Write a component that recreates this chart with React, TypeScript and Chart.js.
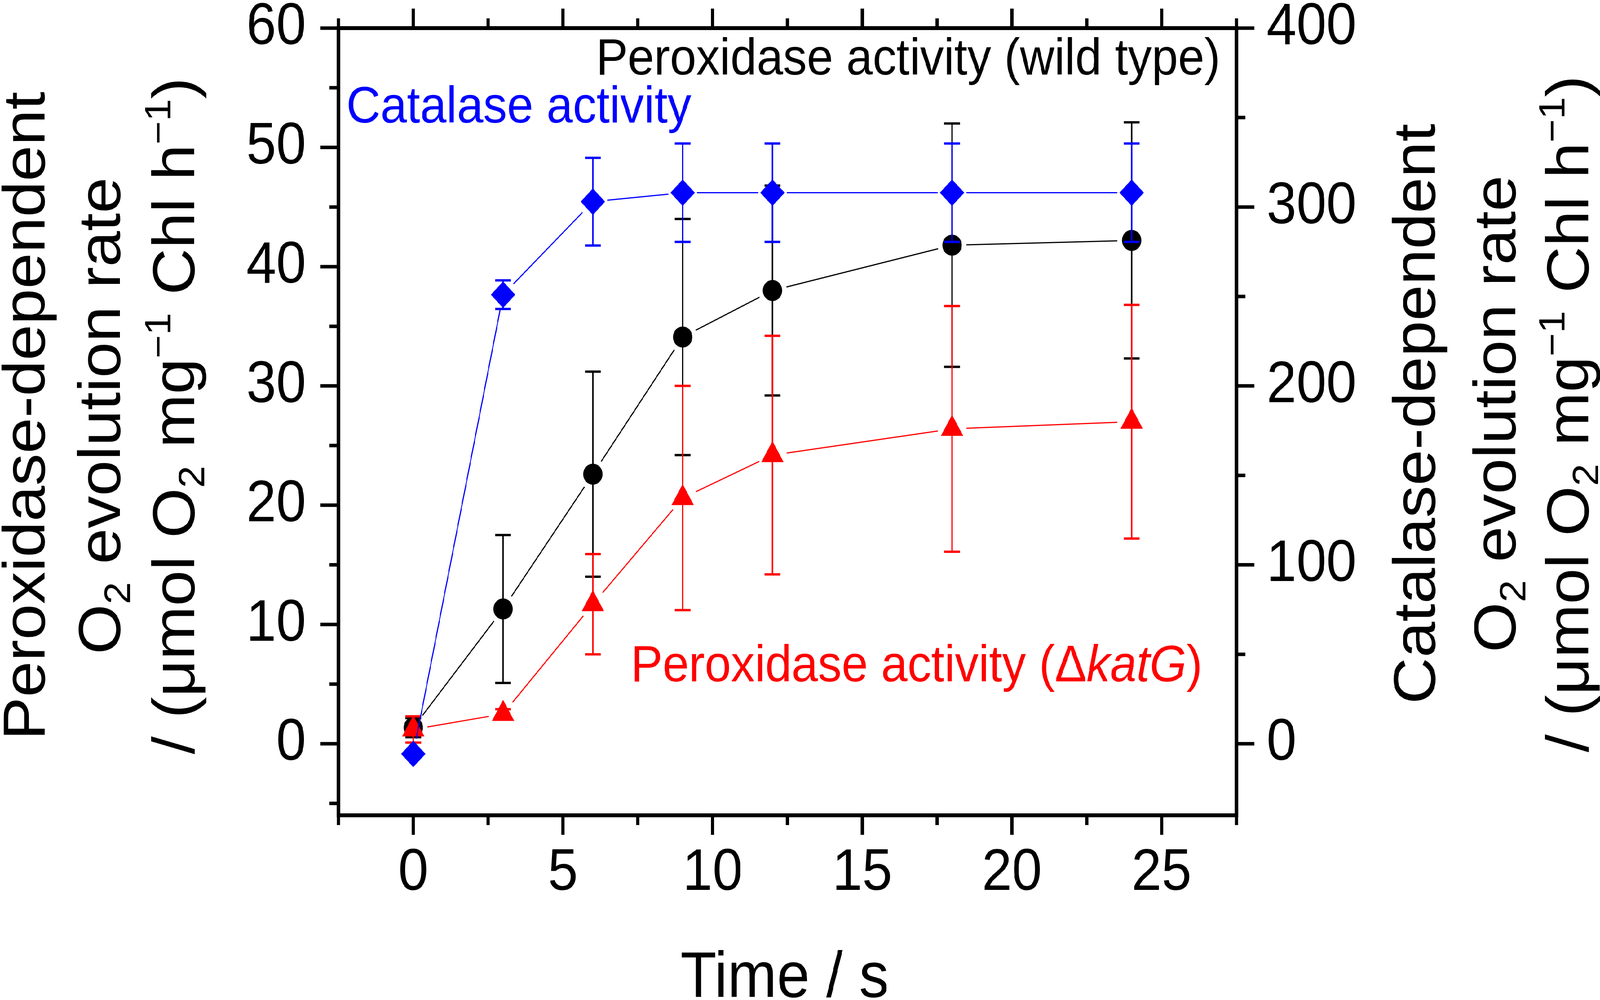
import { useEffect, useRef } from "react"
import { Chart, registerables } from "chart.js"

Chart.register(...registerables)

const FONT = '"Liberation Sans", Arial, sans-serif'
const W = 4458
const H = 2561

// time points (s)
const time = [0, 3, 6, 9, 12, 18, 24]

// peroxidase activity, wild type (left axis)
const wildType = [1.35, 11.3, 22.6, 34.1, 38.0, 41.8, 42.2]
const wildTypeErr = [0.8, 6.2, 8.6, 9.9, 8.8, 10.2, 9.9]

// peroxidase activity, delta katG (left axis)
const katG = [1.2, 2.5, 11.7, 20.6, 24.2, 26.4, 27.0]
const katGErr = [1.1, 0.4, 4.2, 9.4, 10.0, 10.3, 9.8]

// catalase activity (right axis)
const catalase = [-5.7, 251, 303, 308, 308, 308, 308]
const catalaseErr = [2, 8, 24.5, 27.5, 27.5, 27.5, 27.5]

// tick labels
const xTicks = [0, 5, 10, 15, 20, 25]
const xMinor = [-2.5, 2.5, 7.5, 12.5, 17.5, 22.5, 27.5]
const leftTicks = [0, 10, 20, 30, 40, 50, 60]
const leftMinor = [-5, 5, 15, 25, 35, 45, 55]
const rightTicks = [0, 100, 200, 300, 400]
const rightMinor = [50, 150, 250, 350]

type Seg = { t: string; kind?: "sub" | "sup"; italic?: boolean }

const titleLines: Seg[][] = [
  [{ t: "O" }, { t: "2", kind: "sub" }, { t: " evolution rate" }],
  [
    { t: "/ (\u03bcmol O" },
    { t: "2", kind: "sub" },
    { t: " mg" },
    { t: "\u22121", kind: "sup" },
    { t: " Chl h" },
    { t: "\u22121", kind: "sup" },
    { t: ")" },
  ],
]

function drawRich(ctx: CanvasRenderingContext2D, segs: Seg[], x: number, y: number, size: number, color: string, align: "left" | "center") {
  const small = size * 0.62
  const fontFor = (s: Seg) => `${s.italic ? "italic " : ""}${s.kind ? small : size}px ${FONT}`
  ctx.fillStyle = color
  ctx.textAlign = "left"
  ctx.textBaseline = "alphabetic"
  let total = 0
  const widths = segs.map((s) => {
    ctx.font = fontFor(s)
    const w = ctx.measureText(s.t).width
    total += w
    return w
  })
  let cx = align === "center" ? x - total / 2 : x
  segs.forEach((s, i) => {
    ctx.font = fontFor(s)
    const dy = s.kind === "sub" ? size * 0.17 : s.kind === "sup" ? -size * 0.4 : 0
    ctx.fillText(s.t, cx, y + dy)
    cx += widths[i]
  })
}

function drawRotated(ctx: CanvasRenderingContext2D, segs: Seg[], x: number, y: number, size: number) {
  ctx.save()
  ctx.translate(x, y)
  ctx.rotate(-Math.PI / 2)
  drawRich(ctx, segs, 0, 0, size, "#000", "center")
  ctx.restore()
}

// error bars and connecting lines (with a small gap around each symbol)
const errorBars = {
  id: "errorBars",
  beforeDatasetDraw(chart: any, args: any) {
    const ds = chart.data.datasets[args.index]
    const errs: number[] = ds.errors
    if (!errs) return
    const ys = chart.scales[ds.yAxisID]
    const ctx = chart.ctx
    const pts = args.meta.data
    ctx.save()
    ctx.strokeStyle = ds.borderColor
    pts.forEach((pt: any, i: number) => {
      const v = ds.data[i].y
      const top = ys.getPixelForValue(v + errs[i])
      const bot = ys.getPixelForValue(v - errs[i])
      ctx.lineWidth = 4
      ctx.beginPath()
      ctx.moveTo(pt.x, top)
      ctx.lineTo(pt.x, bot)
      ctx.stroke()
      ctx.lineWidth = 6
      ctx.beginPath()
      ctx.moveTo(pt.x - 22, top)
      ctx.lineTo(pt.x + 22, top)
      ctx.moveTo(pt.x - 22, bot)
      ctx.lineTo(pt.x + 22, bot)
      ctx.stroke()
    })
    const gap = 40
    ctx.lineWidth = 3
    ctx.beginPath()
    for (let i = 1; i < pts.length; i++) {
      const a = pts[i - 1]
      const b = pts[i]
      const dx = b.x - a.x
      const dy = b.y - a.y
      const len = Math.hypot(dx, dy)
      if (len <= 2 * gap) continue
      const ux = dx / len
      const uy = dy / len
      ctx.moveTo(a.x + ux * gap, a.y + uy * gap)
      ctx.lineTo(b.x - ux * gap, b.y - uy * gap)
    }
    ctx.stroke()
    ctx.restore()
  },
}

const frame = {
  id: "frame",
  afterDraw(chart: any) {
    const ctx = chart.ctx
    const { left, right, top, bottom } = chart.chartArea
    const x = chart.scales.x
    const y = chart.scales.y
    const y2 = chart.scales.y2
    ctx.save()
    ctx.strokeStyle = "#000"
    ctx.lineWidth = 10
    ctx.strokeRect(left, top, right - left, bottom - top)
    ctx.lineWidth = 9
    ctx.beginPath()
    const tickX = (vals: number[], len: number) => {
      vals.forEach((v) => {
        const px = x.getPixelForValue(v)
        ctx.moveTo(px, bottom)
        ctx.lineTo(px, bottom + len)
        ctx.moveTo(px, top)
        ctx.lineTo(px, top - len)
      })
    }
    tickX(xTicks, 50)
    tickX(xMinor, 25)
    leftTicks.forEach((v) => {
      const py = y.getPixelForValue(v)
      ctx.moveTo(left, py)
      ctx.lineTo(left - 50, py)
    })
    leftMinor.forEach((v) => {
      const py = y.getPixelForValue(v)
      ctx.moveTo(left, py)
      ctx.lineTo(left - 25, py)
    })
    rightTicks.forEach((v) => {
      const py = y2.getPixelForValue(v)
      ctx.moveTo(right, py)
      ctx.lineTo(right + 50, py)
    })
    rightMinor.forEach((v) => {
      const py = y2.getPixelForValue(v)
      ctx.moveTo(right, py)
      ctx.lineTo(right + 25, py)
    })
    ctx.stroke()

    // axis titles
    const ts = 165
    drawRotated(ctx, [{ t: "Peroxidase-dependent" }], 124, 1065, ts)
    drawRotated(ctx, titleLines[0], 334, 1065, ts)
    drawRotated(ctx, titleLines[1], 541, 1065, ts)
    drawRotated(ctx, [{ t: "Catalase-dependent" }], 3998, 1060, ts)
    drawRotated(ctx, titleLines[0], 4222, 1060, ts)
    drawRotated(ctx, titleLines[1], 4425, 1060, ts)
    drawRich(ctx, [{ t: "Time / s" }], (left + right) / 2 - 8, 2553, ts, "#000", "center")

    // series annotations
    const as = 132
    drawRich(ctx, [{ t: "Peroxidase activity (wild type)" }], 1661, 191, as, "#000", "left")
    drawRich(ctx, [{ t: "Catalase activity" }], 965, 314, as, "#0000ff", "left")
    drawRich(
      ctx,
      [{ t: "Peroxidase activity (\u0394" }, { t: "katG", italic: true }, { t: ")" }],
      1758,
      1745,
      as,
      "#ff0000",
      "left"
    )
    ctx.restore()
  },
}

const tickFont = { family: FONT, size: 150 }

const noPad = (s: any) => {
  s.paddingTop = 0
  s.paddingBottom = 0
  s.paddingLeft = 0
  s.paddingRight = 0
}

export default function App() {
  const chartRef = useRef<HTMLCanvasElement>(null)
  // the browser window may be narrower than the figure; squeeze it to fit
  const kx = Math.min(1, window.innerWidth / W)
  const ky = Math.min(1, window.innerHeight / H)

  useEffect(() => {
    if (!chartRef.current) return
    const pts = (vals: number[]) => time.map((t, i) => ({ x: t, y: vals[i] }))

    const chart = new Chart(chartRef.current, {
      type: "line",
      data: {
        datasets: [
          {
            label: "Catalase activity",
            data: pts(catalase),
            errors: catalaseErr,
            yAxisID: "y2",
            showLine: false,
            borderColor: "#0000ff",
            backgroundColor: "#0000ff",
            pointStyle: "rectRot",
            pointRadius: 34,
            pointBorderWidth: 0,
          },
          {
            label: "Peroxidase activity (katG)",
            data: pts(katG),
            errors: katGErr,
            yAxisID: "y",
            showLine: false,
            borderColor: "#ff0000",
            backgroundColor: "#ff0000",
            pointStyle: "triangle",
            pointRadius: 36,
            pointBorderWidth: 0,
          },
          {
            label: "Peroxidase activity (wild type)",
            data: pts(wildType),
            errors: wildTypeErr,
            yAxisID: "y",
            showLine: false,
            borderColor: "#000000",
            backgroundColor: "#000000",
            pointStyle: "circle",
            pointRadius: 27,
            pointBorderWidth: 0,
          },
        ] as any,
      },
      options: {
        animation: false,
        responsive: true,
        maintainAspectRatio: false,
        devicePixelRatio: 1,
        layout: { padding: { top: 72, left: 0, right: 0, bottom: 0 } },
        plugins: {
          legend: { display: false },
          tooltip: { enabled: false },
        },
        scales: {
          x: {
            type: "linear",
            position: "bottom",
            min: -2.5,
            max: 27.5,
            grid: { display: false, drawTicks: false },
            border: { display: false },
            ticks: { font: tickFont, color: "#000", padding: 60, maxRotation: 0, autoSkip: false },
            afterBuildTicks: (s: any) => {
              s.ticks = xTicks.map((v) => ({ value: v }))
            },
            afterFit: (s: any) => {
              s.height = 473
              noPad(s)
            },
          },
          y: {
            type: "linear",
            position: "left",
            min: -6,
            max: 60,
            grid: { display: false, drawTicks: false },
            border: { display: false },
            ticks: { font: tickFont, color: "#000", padding: 90, autoSkip: false },
            afterBuildTicks: (s: any) => {
              s.ticks = leftTicks.map((v) => ({ value: v }))
            },
            afterFit: (s: any) => {
              s.width = 943
              noPad(s)
            },
          },
          y2: {
            type: "linear",
            position: "right",
            min: -40,
            max: 400,
            grid: { display: false, drawTicks: false },
            border: { display: false },
            ticks: { font: tickFont, color: "#000", padding: 84, autoSkip: false },
            afterBuildTicks: (s: any) => {
              s.ticks = rightTicks.map((v) => ({ value: v }))
            },
            afterFit: (s: any) => {
              s.width = 1013
              noPad(s)
            },
          },
        },
      },
      plugins: [errorBars, frame],
    })

    return () => chart.destroy()
  }, [])

  return (
    <div
      style={{
        position: "absolute",
        left: 0,
        top: 0,
        width: W,
        height: H,
        background: "#fff",
        transform: `scale(${kx}, ${ky})`,
        transformOrigin: "0 0",
      }}
    >
      <canvas ref={chartRef} />
    </div>
  )
}
